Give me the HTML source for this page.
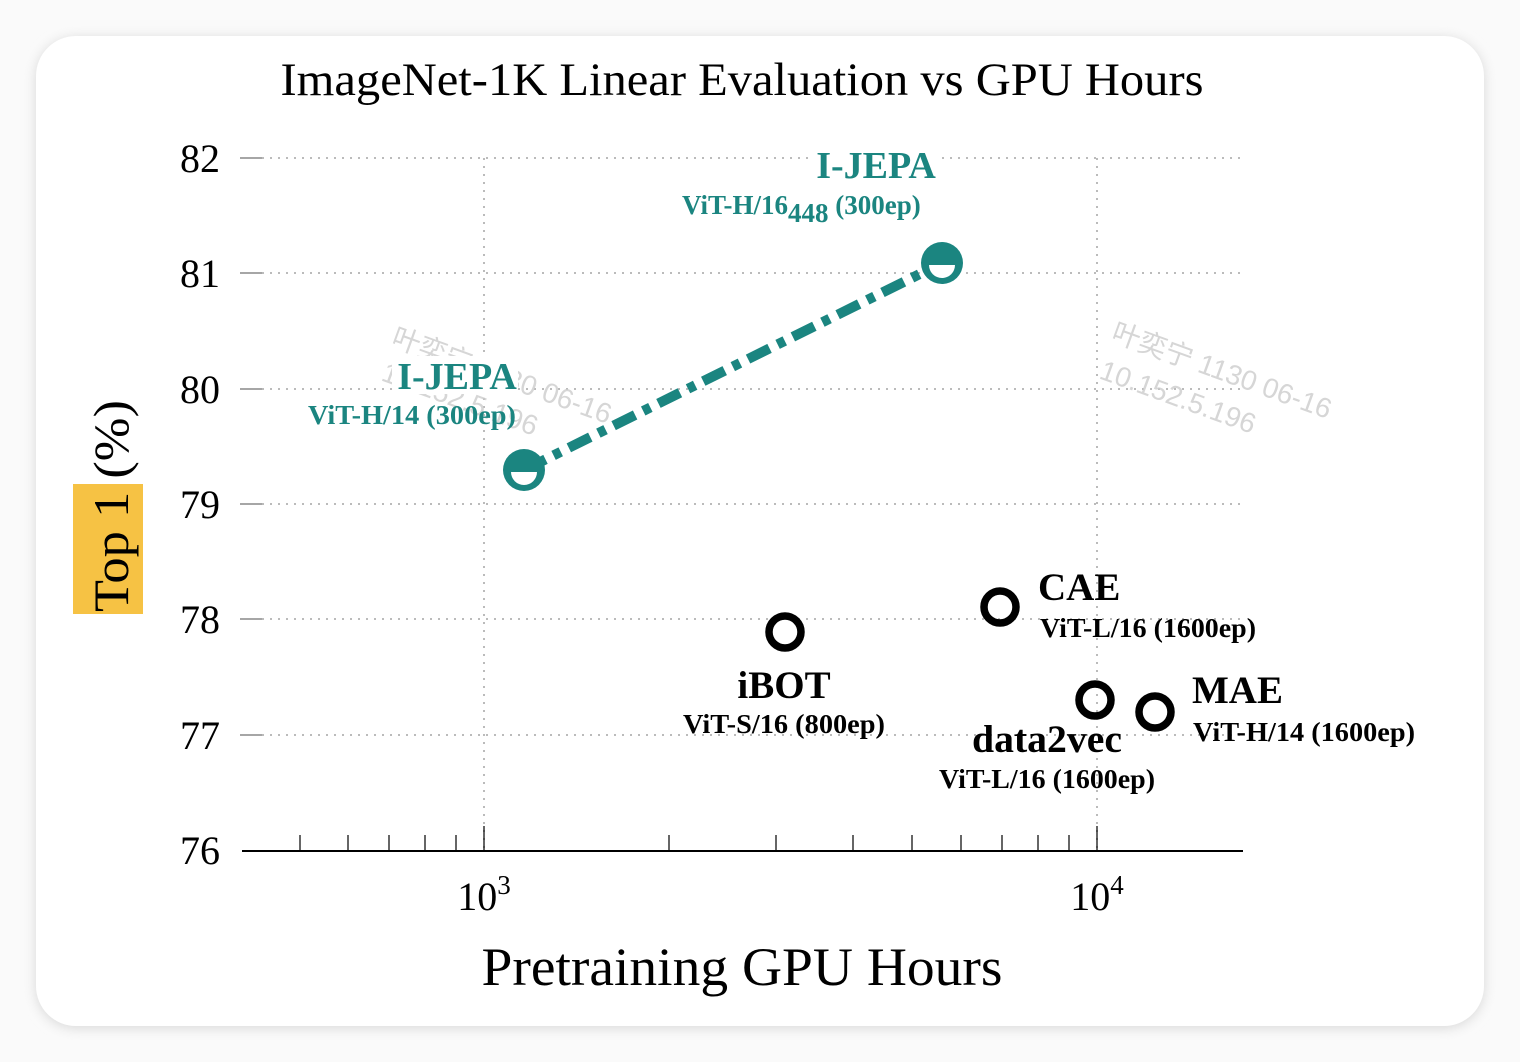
<!DOCTYPE html>
<html><head><meta charset="utf-8"><style>
html,body{margin:0;padding:0;background:#f3f3f3;}
svg{display:block;}
</style></head><body>
<svg width="1520" height="1062" xmlns="http://www.w3.org/2000/svg" font-family="'Liberation Serif', serif">
<defs><filter id="sh" x="-5%" y="-5%" width="110%" height="110%"><feGaussianBlur stdDeviation="6"/></filter></defs>
<rect x="0" y="0" width="1520" height="1062" fill="#fafafa"/>
<rect x="36" y="38" width="1448" height="990" rx="40" fill="#d8d8d8" filter="url(#sh)"/>
<rect x="36" y="36" width="1448" height="990" rx="40" fill="#fff"/>
<text x="742" y="95" font-size="47" text-anchor="middle" fill="#000" textLength="923" lengthAdjust="spacingAndGlyphs">ImageNet-1K Linear Evaluation vs GPU Hours</text>
<g stroke="#bbb" stroke-width="2" stroke-dasharray="2,6">
<line x1="262" y1="158" x2="1243" y2="158"/><line x1="262" y1="273" x2="1243" y2="273"/>
<line x1="262" y1="389" x2="1243" y2="389"/><line x1="262" y1="504" x2="1243" y2="504"/>
<line x1="262" y1="619" x2="1243" y2="619"/><line x1="262" y1="735" x2="1243" y2="735"/>
<line x1="484" y1="158" x2="484" y2="850"/><line x1="1097" y1="158" x2="1097" y2="850"/>
</g>
<g stroke="#888" stroke-width="1.5">
<line x1="240" y1="158" x2="262" y2="158"/><line x1="240" y1="273" x2="262" y2="273"/>
<line x1="240" y1="389" x2="262" y2="389"/><line x1="240" y1="504" x2="262" y2="504"/>
<line x1="240" y1="619" x2="262" y2="619"/><line x1="240" y1="735" x2="262" y2="735"/>
</g>
<g font-size="40" text-anchor="end" fill="#000">
<text x="220" y="172">82</text><text x="220" y="287">81</text><text x="220" y="403">80</text>
<text x="220" y="518">79</text><text x="220" y="633">78</text><text x="220" y="749">77</text><text x="220" y="864">76</text>
</g>
<line x1="242" y1="851" x2="1243" y2="851" stroke="#000" stroke-width="2"/>
<g stroke="#000" stroke-width="1.2">
<line x1="300" y1="851" x2="300" y2="835"/><line x1="348" y1="851" x2="348" y2="835"/><line x1="389" y1="851" x2="389" y2="835"/><line x1="425" y1="851" x2="425" y2="835"/><line x1="456" y1="851" x2="456" y2="835"/>
<line x1="484" y1="851" x2="484" y2="826"/>
<line x1="669" y1="851" x2="669" y2="835"/><line x1="776" y1="851" x2="776" y2="835"/><line x1="853" y1="851" x2="853" y2="835"/><line x1="912" y1="851" x2="912" y2="835"/><line x1="961" y1="851" x2="961" y2="835"/><line x1="1002" y1="851" x2="1002" y2="835"/><line x1="1038" y1="851" x2="1038" y2="835"/><line x1="1069" y1="851" x2="1069" y2="835"/>
<line x1="1097" y1="851" x2="1097" y2="826"/>
</g>
<text x="484" y="910" font-size="40" text-anchor="middle">10<tspan dy="-16" font-size="27">3</tspan></text>
<text x="1097" y="910" font-size="40" text-anchor="middle">10<tspan dy="-16" font-size="27">4</tspan></text>
<text x="742" y="985" font-size="54" text-anchor="middle" textLength="521" lengthAdjust="spacingAndGlyphs">Pretraining GPU Hours</text>
<rect x="73" y="484" width="70" height="130" fill="#f6c244"/>
<text transform="translate(128,506) rotate(-90)" font-size="50" text-anchor="middle" fill="#000" textLength="212" lengthAdjust="spacingAndGlyphs">Top 1 (%)</text>
<g fill="#ccc" font-family="'Liberation Sans','Noto Sans CJK SC',sans-serif" font-size="28" opacity="0.8">
<text transform="translate(390,345) rotate(20)">叶奕宁 1130 06-16</text>
<text transform="translate(380,380) rotate(20)">10.152.5.196</text>
<text transform="translate(1110,340) rotate(20)">叶奕宁 1130 06-16</text>
<text transform="translate(1098,378) rotate(20)">10.152.5.196</text>
</g>
<line x1="524" y1="470" x2="942" y2="263" stroke="#1b8580" stroke-width="10" stroke-dasharray="24,9,8,9"/>
<g>
<circle cx="524" cy="470" r="21" fill="#1b8580"/><path d="M511,472 A13,13 0 0 0 537,472 Z" fill="#fff"/>
<circle cx="942" cy="263" r="21" fill="#1b8580"/><path d="M929,265 A13,13 0 0 0 955,265 Z" fill="#fff"/>
</g>
<g fill="none" stroke="#000" stroke-width="7.5">
<circle cx="785" cy="632" r="16"/><circle cx="1000" cy="607" r="16"/><circle cx="1095" cy="700" r="16"/><circle cx="1155" cy="712" r="16"/>
</g>
<g fill="#1b8580" font-weight="bold">
<rect x="392" y="356" width="126" height="38" fill="#fff"/>
<text x="457" y="389" font-size="38" text-anchor="middle">I-JEPA</text>
<text x="412" y="424" font-size="27" text-anchor="middle" textLength="208" lengthAdjust="spacingAndGlyphs">ViT-H/14 (300ep)</text>
<rect x="812" y="145" width="126" height="38" fill="#fff"/>
<text x="876" y="178" font-size="38" text-anchor="middle">I-JEPA</text>
<text x="682" y="214" font-size="27">ViT-H/16<tspan dy="8" font-size="27">448</tspan><tspan dy="-8"> (300ep)</tspan></text>
</g>
<g fill="#000" font-weight="bold">
<text x="784" y="698" font-size="39" text-anchor="middle">iBOT</text>
<text x="784" y="733" font-size="27" text-anchor="middle" textLength="202" lengthAdjust="spacingAndGlyphs">ViT-S/16 (800ep)</text>
<text x="1038" y="600" font-size="39">CAE</text>
<text x="1040" y="637" font-size="27" textLength="216" lengthAdjust="spacingAndGlyphs">ViT-L/16 (1600ep)</text>
<text x="1192" y="703" font-size="39">MAE</text>
<text x="1193" y="741" font-size="27" textLength="222" lengthAdjust="spacingAndGlyphs">ViT-H/14 (1600ep)</text>
<text x="1047" y="752" font-size="39" text-anchor="middle" textLength="150" lengthAdjust="spacingAndGlyphs">data2vec</text>
<text x="1047" y="788" font-size="27" text-anchor="middle" textLength="216" lengthAdjust="spacingAndGlyphs">ViT-L/16 (1600ep)</text>
</g>
</svg>
</body></html>
